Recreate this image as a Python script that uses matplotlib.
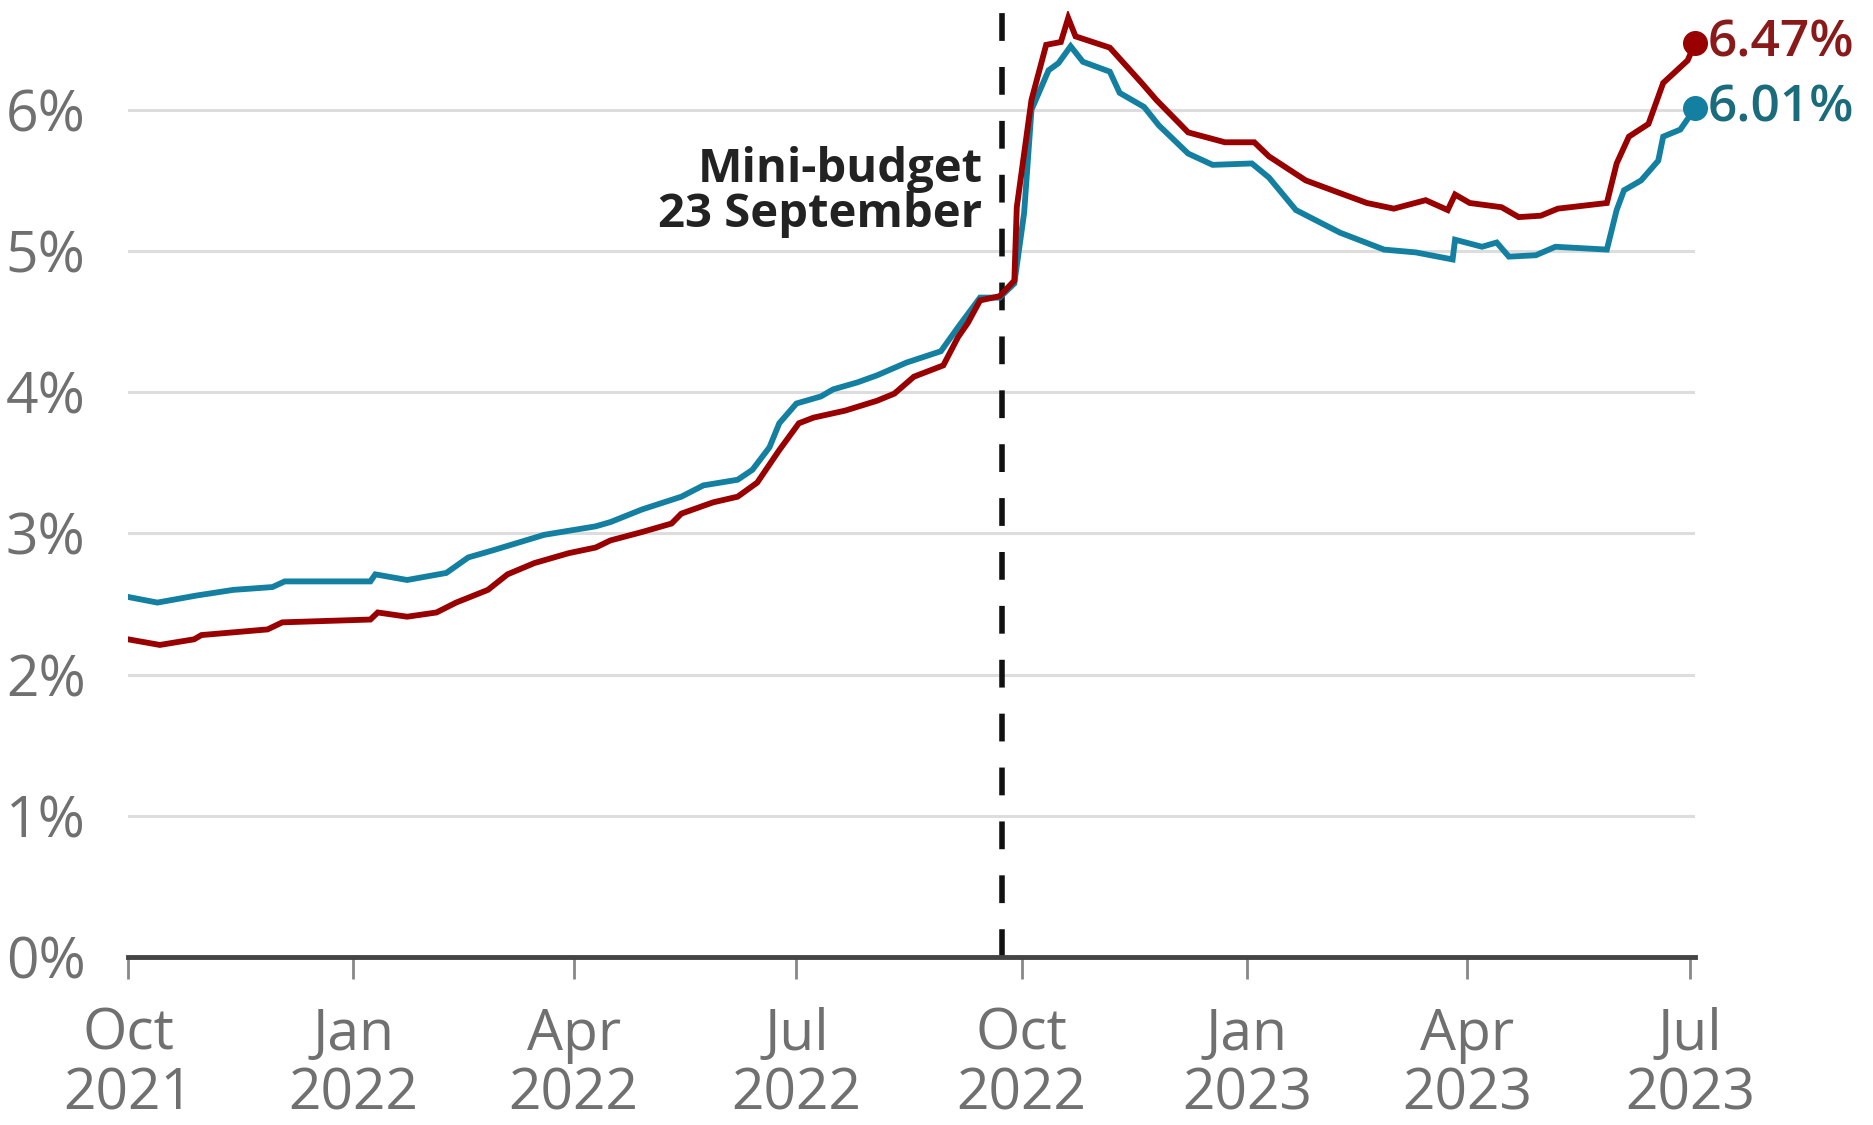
import pandas as pd
import matplotlib
matplotlib.use('Agg')
import matplotlib.pyplot as plt

# 5-year fixed (teal)
five_year_dates = ['2021-10-01', '2021-10-13', '2021-10-29', '2021-11-13', '2021-11-29', '2021-12-04',
                   '2022-01-08', '2022-01-10', '2022-01-23', '2022-02-08', '2022-02-17', '2022-02-27',
                   '2022-03-20', '2022-04-10', '2022-04-16', '2022-04-29', '2022-05-15', '2022-05-24',
                   '2022-06-07', '2022-06-13', '2022-06-20', '2022-06-24', '2022-07-01', '2022-07-11',
                   '2022-07-16', '2022-07-26', '2022-08-03', '2022-08-15', '2022-08-29', '2022-09-05',
                   '2022-09-14', '2022-09-22', '2022-09-28', '2022-10-02', '2022-10-05', '2022-10-12',
                   '2022-10-16', '2022-10-21', '2022-10-26', '2022-11-06', '2022-11-10', '2022-11-20',
                   '2022-11-26', '2022-12-08', '2022-12-18', '2023-01-03', '2023-01-10', '2023-01-21',
                   '2023-02-08', '2023-02-26', '2023-03-11', '2023-03-26', '2023-03-27', '2023-04-07',
                   '2023-04-13', '2023-04-18', '2023-04-29', '2023-05-07', '2023-05-28', '2023-06-01',
                   '2023-06-04', '2023-06-11', '2023-06-18', '2023-06-20', '2023-06-27', '2023-07-03']
five_year = [2.55, 2.51, 2.56, 2.60, 2.62, 2.66,
             2.66, 2.71, 2.67, 2.72, 2.83, 2.88,
             2.99, 3.05, 3.08, 3.17, 3.26, 3.34,
             3.38, 3.45, 3.61, 3.78, 3.92, 3.97,
             4.02, 4.07, 4.12, 4.21, 4.29, 4.46,
             4.67, 4.67, 4.77, 5.27, 6.00, 6.28,
             6.33, 6.45, 6.34, 6.27, 6.12, 6.02,
             5.89, 5.69, 5.61, 5.62, 5.52, 5.29,
             5.13, 5.01, 4.99, 4.94, 5.08, 5.03,
             5.06, 4.96, 4.97, 5.03, 5.01, 5.29,
             5.43, 5.50, 5.64, 5.81, 5.86, 6.01]

# 2-year fixed (red)
two_year_dates = ['2021-10-01', '2021-10-14', '2021-10-28', '2021-10-31', '2021-11-27', '2021-12-03',
                  '2022-01-08', '2022-01-11', '2022-01-23', '2022-02-04', '2022-02-12', '2022-02-25',
                  '2022-03-05', '2022-03-16', '2022-03-30', '2022-04-10', '2022-04-16', '2022-04-29',
                  '2022-05-11', '2022-05-15', '2022-05-28', '2022-06-07', '2022-06-15', '2022-06-24',
                  '2022-07-02', '2022-07-08', '2022-07-21', '2022-08-03', '2022-08-10', '2022-08-18',
                  '2022-08-30', '2022-09-05', '2022-09-09', '2022-09-14', '2022-09-22', '2022-09-28',
                  '2022-09-29', '2022-10-05', '2022-10-11', '2022-10-17', '2022-10-20', '2022-10-23',
                  '2022-11-06', '2022-11-19', '2022-11-25', '2022-12-08', '2022-12-23', '2023-01-04',
                  '2023-01-10', '2023-01-25', '2023-02-08', '2023-02-19', '2023-03-02', '2023-03-15',
                  '2023-03-24', '2023-03-27', '2023-04-02', '2023-04-15', '2023-04-22', '2023-05-01',
                  '2023-05-08', '2023-05-28', '2023-06-01', '2023-06-06', '2023-06-14', '2023-06-20',
                  '2023-06-30', '2023-07-03']
two_year = [2.25, 2.21, 2.25, 2.28, 2.32, 2.37,
            2.39, 2.44, 2.41, 2.44, 2.51, 2.60,
            2.71, 2.79, 2.86, 2.90, 2.95, 3.01,
            3.07, 3.14, 3.22, 3.26, 3.36, 3.59,
            3.78, 3.82, 3.87, 3.94, 3.99, 4.11,
            4.19, 4.39, 4.49, 4.65, 4.68, 4.79,
            5.31, 6.07, 6.46, 6.48, 6.65, 6.52,
            6.44, 6.19, 6.07, 5.84, 5.77, 5.77,
            5.67, 5.50, 5.41, 5.34, 5.30, 5.36,
            5.29, 5.40, 5.34, 5.31, 5.24, 5.25,
            5.30, 5.34, 5.62, 5.81, 5.90, 6.19,
            6.35, 6.47]

y_ticks = [0, 1, 2, 3, 4, 5, 6]
x_ticks = ['2021-10-01', '2022-01-01', '2022-04-01', '2022-07-01', '2022-10-01',
           '2023-01-01', '2023-04-01', '2023-07-01']
x_tick_labels = ['Oct\n2021', 'Jan\n2022', 'Apr\n2022', 'Jul\n2022', 'Oct\n2022',
                 'Jan\n2023', 'Apr\n2023', 'Jul\n2023']
budget_date = '2022-09-23'

red = '#990000'
teal = '#1380a1'

plt.rcParams['font.family'] = ['Open Sans', 'DejaVu Sans']

fig = plt.figure(figsize=(18.74, 11.25), dpi=100)
# 0% sits at y=957px, 1% is about 141px tall
ax = fig.add_axes([128 / 1874, 1 - 957 / 1125, (1695 - 128) / 1874, (6.7 * 141.2) / 1125])

d5 = pd.to_datetime(five_year_dates)
d2 = pd.to_datetime(two_year_dates)

ax.plot(d5, five_year, color=teal, lw=4.2, solid_joinstyle='miter', zorder=3)
ax.plot(d2, two_year, color=red, lw=4.2, solid_joinstyle='miter', zorder=4)

# end points
ax.plot(d2[-1], two_year[-1], 'o', color=red, ms=17, clip_on=False, zorder=5)
ax.plot(d5[-1], five_year[-1], 'o', color=teal, ms=17, clip_on=False, zorder=5)
ax.annotate('%.2f%%' % two_year[-1], (d2[-1], two_year[-1]), xytext=(9, 0), textcoords='offset points',
            va='center', ha='left', fontsize=37, fontweight='semibold', color='#8a1a1a', annotation_clip=False)
ax.annotate('%.2f%%' % five_year[-1], (d5[-1], five_year[-1]), xytext=(9, 0), textcoords='offset points',
            va='center', ha='left', fontsize=37, fontweight='semibold', color='#1a6b7c', annotation_clip=False)

# mini-budget
bd = pd.to_datetime(budget_date)
ax.axvline(bd, color='#111111', lw=4, linestyle=(0, (5, 4.7)), zorder=2)
ax.text(bd - pd.Timedelta(days=8), 5.42, 'Mini-budget\n23 September', ha='right', va='center',
        fontsize=34, fontweight='bold', color='#222222', linespacing=0.95)

ax.set_ylim(0, 6.7)
ax.set_xlim(pd.Timestamp('2021-10-01'), d2[-1])

ax.set_yticks(y_ticks)
ax.set_yticklabels(['%d%%' % v for v in y_ticks])
ax.yaxis.grid(True, color='#dddddd', lw=2.2)
ax.set_axisbelow(True)
ax.tick_params(axis='y', length=0, pad=88, labelsize=41, labelcolor='#707070')
for lab in ax.get_yticklabels():
    lab.set_horizontalalignment('left')

ax.set_xticks(pd.to_datetime(x_ticks))
ax.set_xticklabels(x_tick_labels, linespacing=1.05)
ax.tick_params(axis='x', length=16, width=2, color='#888888', pad=20, labelsize=41, labelcolor='#707070')

for s in ['left', 'right', 'top']:
    ax.spines[s].set_visible(False)
ax.spines['bottom'].set_color('#444444')
ax.spines['bottom'].set_linewidth(3.5)
ax.spines['bottom'].set_zorder(6)

fig.savefig('out.png', dpi=100)
